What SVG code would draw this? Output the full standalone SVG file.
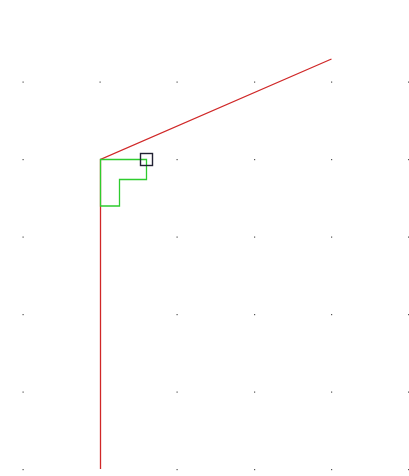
<svg xmlns="http://www.w3.org/2000/svg" width="409" height="476" viewBox="0 0 409 476">
<style>
.dot{fill:#555}
.red{fill:none;stroke:#d02828;stroke-width:1.3}
.green{fill:none;stroke:#2ecc2e;stroke-width:1.3}
.sel{fill:none;stroke:#222233;stroke-width:1.4}
</style>
<defs>
<rect id="d" class="dot" width="1.2" height="1.2"/>
</defs>
<rect width="409" height="476" fill="#fff"/>
<g id="grid">
<use href="#d" x="22.5" y="81.5"/><use href="#d" x="99.5" y="81.5"/><use href="#d" x="176.5" y="81.5"/><use href="#d" x="254" y="81.5"/><use href="#d" x="331" y="81.5"/><use href="#d" x="408" y="81.5"/>
<use href="#d" x="22.5" y="159"/><use href="#d" x="176.5" y="159"/><use href="#d" x="254" y="159"/><use href="#d" x="331" y="159"/><use href="#d" x="408" y="159"/>
<use href="#d" x="22.5" y="236.5"/><use href="#d" x="176.5" y="236.5"/><use href="#d" x="254" y="236.5"/><use href="#d" x="331" y="236.5"/><use href="#d" x="408" y="236.5"/>
<use href="#d" x="22.5" y="314"/><use href="#d" x="176.5" y="314"/><use href="#d" x="254" y="314"/><use href="#d" x="331" y="314"/><use href="#d" x="408" y="314"/>
<use href="#d" x="22.5" y="391.5"/><use href="#d" x="176.5" y="391.5"/><use href="#d" x="254" y="391.5"/><use href="#d" x="331" y="391.5"/><use href="#d" x="408" y="391.5"/>
<use href="#d" x="22.5" y="469"/><use href="#d" x="176.5" y="469"/><use href="#d" x="254" y="469"/><use href="#d" x="331" y="469"/><use href="#d" x="408" y="469"/>
</g>
<g id="connectors">
<polyline class="red" points="100.5,469 100.5,159.5 331.5,59"/>
</g>
<g id="angle">
<polygon class="green" points="100.5,159.5 146.5,159.5 146.5,179.5 119.5,179.5 119.5,206 100.5,206"/>
</g>
<g id="handle">
<rect class="sel" x="140.5" y="153.5" width="12" height="12"/>
</g>
</svg>
